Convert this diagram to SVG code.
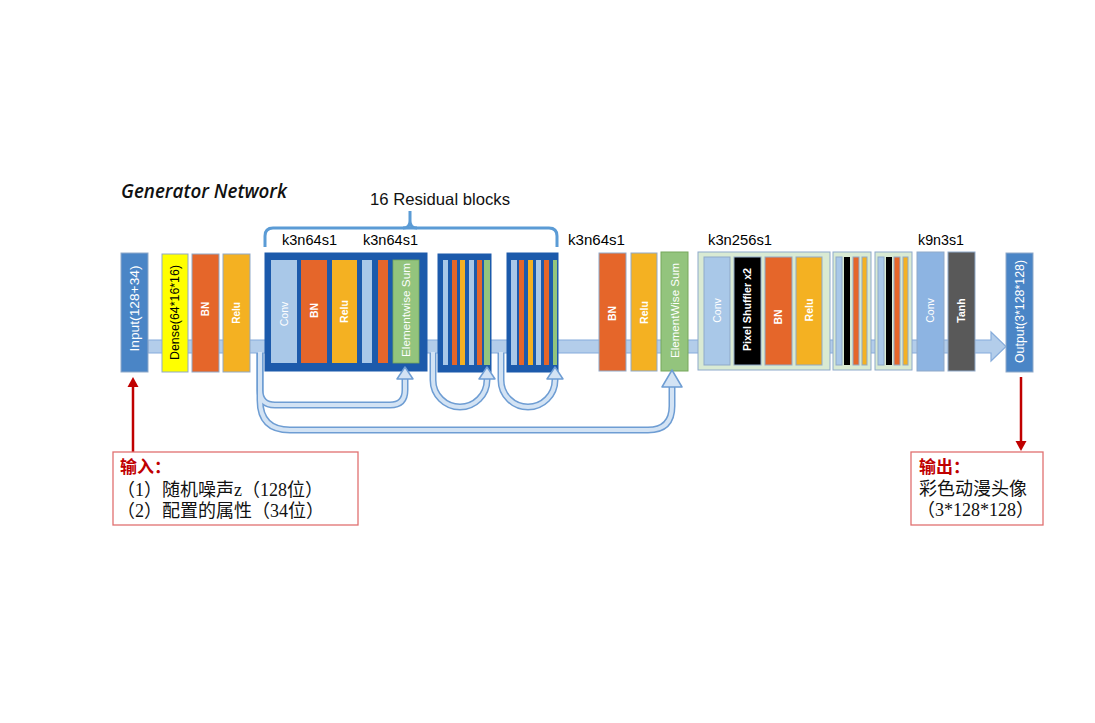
<svg xmlns="http://www.w3.org/2000/svg" width="1095" height="723" viewBox="0 0 1095 723">
<defs>
<style>
.bx{stroke:#8fa9c9;stroke-width:1}
.in{fill:#4a85c6}
.ye{fill:#ffff00}
.bn{fill:#e5662a}
.re{fill:#f4b122}
.lb{fill:#a9c8e8}
.gr{fill:#93c47d;stroke:#76a75d}
.bk{fill:#000}
.dk{fill:#1c5aab;stroke:#1c5aab}
.pg{fill:#d9ead3;stroke:#8eaacb;stroke-width:1}
.cv{fill:#8db4e2}
.th{fill:#595959}
.lbl{font-family:"Liberation Sans",Arial,sans-serif;fill:#fff;text-anchor:middle}
.b{font-weight:bold}
.k{font-family:"Liberation Sans",Arial,sans-serif;font-size:14.5px;fill:#000}
.tO{fill:none;stroke:#6e9dd3;stroke-width:7}
.tI{fill:none;stroke:#d3e3f4;stroke-width:4}
.ah{fill:#d3e3f4;stroke:#6e9dd3;stroke-width:1.5;stroke-linejoin:round}
.red{stroke:#c00000;stroke-width:2.5;fill:none}
.rh{fill:#c00000}
.note{fill:#fff;stroke:#e07070;stroke-width:1.3}
.cn{font-family:"Liberation Serif","Noto Sans CJK SC",serif;font-size:18px;fill:#111}
.cnr{font-family:"Liberation Serif","Noto Sans CJK SC",serif;font-size:17px;fill:#c00000;font-weight:bold}
</style>
</defs>
<rect width="1095" height="723" fill="#fff"/>

<text x="121" y="198" font-family="Open Sans,Liberation Sans,Arial,sans-serif" font-size="19" font-style="italic" font-weight="600" fill="#111" textLength="166" lengthAdjust="spacingAndGlyphs">Generator Network</text>

<g id="flow">
<polygon points="148,340 991,340 991,332 1006,346.5 991,361 991,353 148,353" fill="#b3cdea" stroke="#86acdb" stroke-width="1.2"/>
</g>

<g id="bracket">
<path d="M265 247 V236 Q265 228 273 228 H549 Q557 228 557 236 V247" fill="none" stroke="#5b9bd5" stroke-width="3"/>
<path d="M403 228 Q410 228 410 221 V211 M417 228 Q410 228 410 221" fill="none" stroke="#5b9bd5" stroke-width="3"/>
<text x="370" y="205" font-family="Liberation Sans,Arial,sans-serif" font-size="16.5" fill="#111" textLength="140" lengthAdjust="spacingAndGlyphs">16 Residual blocks</text>
</g>

<g id="labels">
<text class="k" x="282" y="245" textLength="55" lengthAdjust="spacingAndGlyphs">k3n64s1</text>
<text class="k" x="363" y="245" textLength="55" lengthAdjust="spacingAndGlyphs">k3n64s1</text>
<text class="k" x="568" y="245" textLength="57" lengthAdjust="spacingAndGlyphs">k3n64s1</text>
<text class="k" x="708" y="245" textLength="64" lengthAdjust="spacingAndGlyphs">k3n256s1</text>
<text class="k" x="918" y="245" textLength="46" lengthAdjust="spacingAndGlyphs">k9n3s1</text>
</g>

<g id="node-input">
<rect class="bx in" x="121" y="253" width="27" height="119"/>
<text class="lbl" font-size="12.5" transform="translate(134.5,308.5) rotate(-90)" dy="4.4" textLength="86" lengthAdjust="spacingAndGlyphs">Input(128+34)</text>
</g>
<g id="node-dense">
<rect class="bx ye" x="162" y="254" width="26" height="118"/>
<text class="lbl" font-size="12" style="fill:#000" transform="translate(175,312.5) rotate(-90)" dy="4.2" textLength="95" lengthAdjust="spacingAndGlyphs">Dense(64*16*16)</text>
</g>
<g id="node-bn1">
<rect class="bx bn" x="192" y="254" width="27" height="118"/>
<text class="lbl b" font-size="10" transform="translate(205.5,309) rotate(-90)" dy="3.5">BN</text>
</g>
<g id="node-relu1">
<rect class="bx re" x="223" y="254" width="27" height="118"/>
<text class="lbl b" font-size="10" transform="translate(236.5,313) rotate(-90)" dy="3.5">Relu</text>
</g>

<g id="node-res1">
<rect class="dk" x="265" y="253" width="162" height="118"/>
<rect class="lb" x="271" y="260" width="26" height="103"/>
<text class="lbl" font-size="10.5" transform="translate(284,314) rotate(-90)" dy="3.7">Conv</text>
<rect class="bn" x="301" y="260" width="26" height="103"/>
<text class="lbl b" font-size="10.5" transform="translate(314,310.5) rotate(-90)" dy="3.7">BN</text>
<rect class="re" x="332" y="260" width="25" height="103"/>
<text class="lbl b" font-size="10.5" transform="translate(344.5,311.5) rotate(-90)" dy="3.7">Relu</text>
<rect class="lb" x="362" y="260" width="10" height="103"/>
<rect class="bn" x="378" y="260" width="10" height="103"/>
<rect class="gr" x="393" y="260" width="26" height="103" stroke-width="0.8"/>
<text class="lbl" font-size="11.5" transform="translate(406,310) rotate(-90)" dy="4" textLength="94" lengthAdjust="spacingAndGlyphs">Elementwise Sum</text>
</g>

<g id="node-res2">
<rect class="dk" x="438" y="254" width="53" height="118"/>
<rect class="lb" x="443" y="260" width="5" height="105"/>
<rect class="bn" x="452" y="260" width="5" height="105"/>
<rect class="re" x="460" y="260" width="5" height="105"/>
<rect class="lb" x="469" y="260" width="5" height="105"/>
<rect class="bn" x="477" y="260" width="5" height="105"/>
<rect class="gr" x="484" y="260" width="6" height="105" stroke-width="0"/>
</g>

<g id="node-res3">
<rect class="dk" x="507" y="253" width="51" height="119"/>
<rect class="lb" x="511" y="260" width="6" height="105"/>
<rect class="bn" x="519" y="260" width="5" height="105"/>
<rect class="re" x="528" y="260" width="5" height="105"/>
<rect class="lb" x="536" y="260" width="5" height="105"/>
<rect class="bn" x="544" y="260" width="5" height="105"/>
<rect class="gr" x="553" y="260" width="4" height="105" stroke-width="0"/>
</g>

<g id="node-bn2">
<rect class="bx bn" x="599" y="253" width="27" height="118"/>
<text class="lbl b" font-size="10.5" transform="translate(612.5,313.5) rotate(-90)" dy="3.7">BN</text>
</g>
<g id="node-relu2">
<rect class="bx re" x="631" y="253" width="26" height="118"/>
<text class="lbl b" font-size="10.5" transform="translate(644,312.5) rotate(-90)" dy="3.7">Relu</text>
</g>
<g id="node-sum">
<rect class="gr" x="661" y="252" width="27" height="119"/>
<text class="lbl" font-size="11.5" transform="translate(674.5,310.5) rotate(-90)" dy="4" textLength="95" lengthAdjust="spacingAndGlyphs">ElementWise Sum</text>
</g>

<g id="node-up1">
<rect class="pg" x="698" y="252" width="132" height="118"/>
<rect class="bx lb" x="704" y="257" width="26" height="108"/>
<text class="lbl" font-size="10.5" transform="translate(717,310.5) rotate(-90)" dy="3.7">Conv</text>
<rect class="bx bk" x="734" y="257" width="27" height="108"/>
<text class="lbl b" font-size="10.5" transform="translate(747.5,309.5) rotate(-90)" dy="3.7" textLength="83" lengthAdjust="spacingAndGlyphs">Pixel Shuffler x2</text>
<rect class="bx bn" x="765" y="257" width="27" height="108"/>
<text class="lbl b" font-size="10.5" transform="translate(778.5,317) rotate(-90)" dy="3.7">BN</text>
<rect class="bx re" x="796" y="257" width="26" height="108"/>
<text class="lbl b" font-size="10.5" transform="translate(809,310) rotate(-90)" dy="3.7">Relu</text>
</g>

<g id="node-up2">
<rect class="pg" x="833" y="252" width="38" height="118"/>
<rect class="bx lb" x="836" y="257" width="6" height="108"/>
<rect class="bk" x="844" y="257" width="6" height="108"/>
<rect class="bx bn" x="853" y="257" width="6" height="108"/>
<rect class="bx re" x="862" y="257" width="5" height="108"/>
</g>
<g id="node-up3">
<rect class="pg" x="875" y="252" width="37" height="118"/>
<rect class="bx lb" x="878" y="257" width="6" height="108"/>
<rect class="bk" x="886" y="257" width="6" height="108"/>
<rect class="bx bn" x="894" y="257" width="6" height="108"/>
<rect class="bx re" x="903" y="257" width="5" height="108"/>
</g>

<g id="node-conv-out">
<rect class="bx cv" x="917" y="252" width="27" height="119"/>
<text class="lbl" font-size="10.5" transform="translate(930.5,310.5) rotate(-90)" dy="3.7">Conv</text>
</g>
<g id="node-tanh">
<rect class="bx th" x="948" y="252" width="27" height="119"/>
<text class="lbl b" font-size="10.5" transform="translate(961.5,310.5) rotate(-90)" dy="3.7">Tanh</text>
</g>
<g id="node-output">
<rect class="bx in" x="1006" y="253" width="27" height="119"/>
<text class="lbl" font-size="12" transform="translate(1019.5,311.5) rotate(-90)" dy="4.2" textLength="103" lengthAdjust="spacingAndGlyphs">Output(3*128*128)</text>
</g>

<g id="connectors">
<path class="tO" d="M260 353 V400 Q260 430 290 430 H648 Q672 430 672 406 V386"/>
<path class="tO" d="M260 353 V390 Q260 405 275 405 H390 Q405 405 405 390 V378"/>
<path class="tO" d="M433 353 V380 A27 27 0 0 0 487 380 V378"/>
<path class="tO" d="M501 353 V380 A27 27 0 0 0 555 380 V378"/>
<path class="tI" d="M260 352 V400 Q260 430 290 430 H648 Q672 430 672 406 V386"/>
<path class="tI" d="M260 352 V390 Q260 405 275 405 H390 Q405 405 405 390 V378"/>
<path class="tI" d="M433 352 V380 A27 27 0 0 0 487 380 V378"/>
<path class="tI" d="M501 352 V380 A27 27 0 0 0 555 380 V378"/>
<polygon class="ah" points="405,367 413,379 397,379"/>
<polygon class="ah" points="487,367 495,379 479,379"/>
<polygon class="ah" points="555,367 563,379 547,379"/>
<polygon class="ah" points="672,370 682,387 662,387"/>
<line class="red" x1="133" y1="452" x2="133" y2="385"/>
<polygon class="rh" points="133,377 138.5,387 127.5,387"/>
<line class="red" x1="1021" y1="377" x2="1021" y2="443"/>
<polygon class="rh" points="1021,451 1026.5,441 1015.5,441"/>
</g>

<g id="note-input">
<rect class="note" x="113" y="452" width="245" height="73"/>
<text class="cnr" x="120" y="473">输入：</text>
<text class="cn" x="117" y="496">（1）随机噪声z（128位）</text>
<text class="cn" x="117" y="517">（2）配置的属性（34位）</text>
</g>
<g id="note-output">
<rect class="note" x="911" y="452" width="132" height="73"/>
<text class="cnr" x="919" y="473">输出：</text>
<text class="cn" x="919" y="495">彩色动漫头像</text>
<text class="cn" x="917" y="516">（3*128*128）</text>
</g>
</svg>
